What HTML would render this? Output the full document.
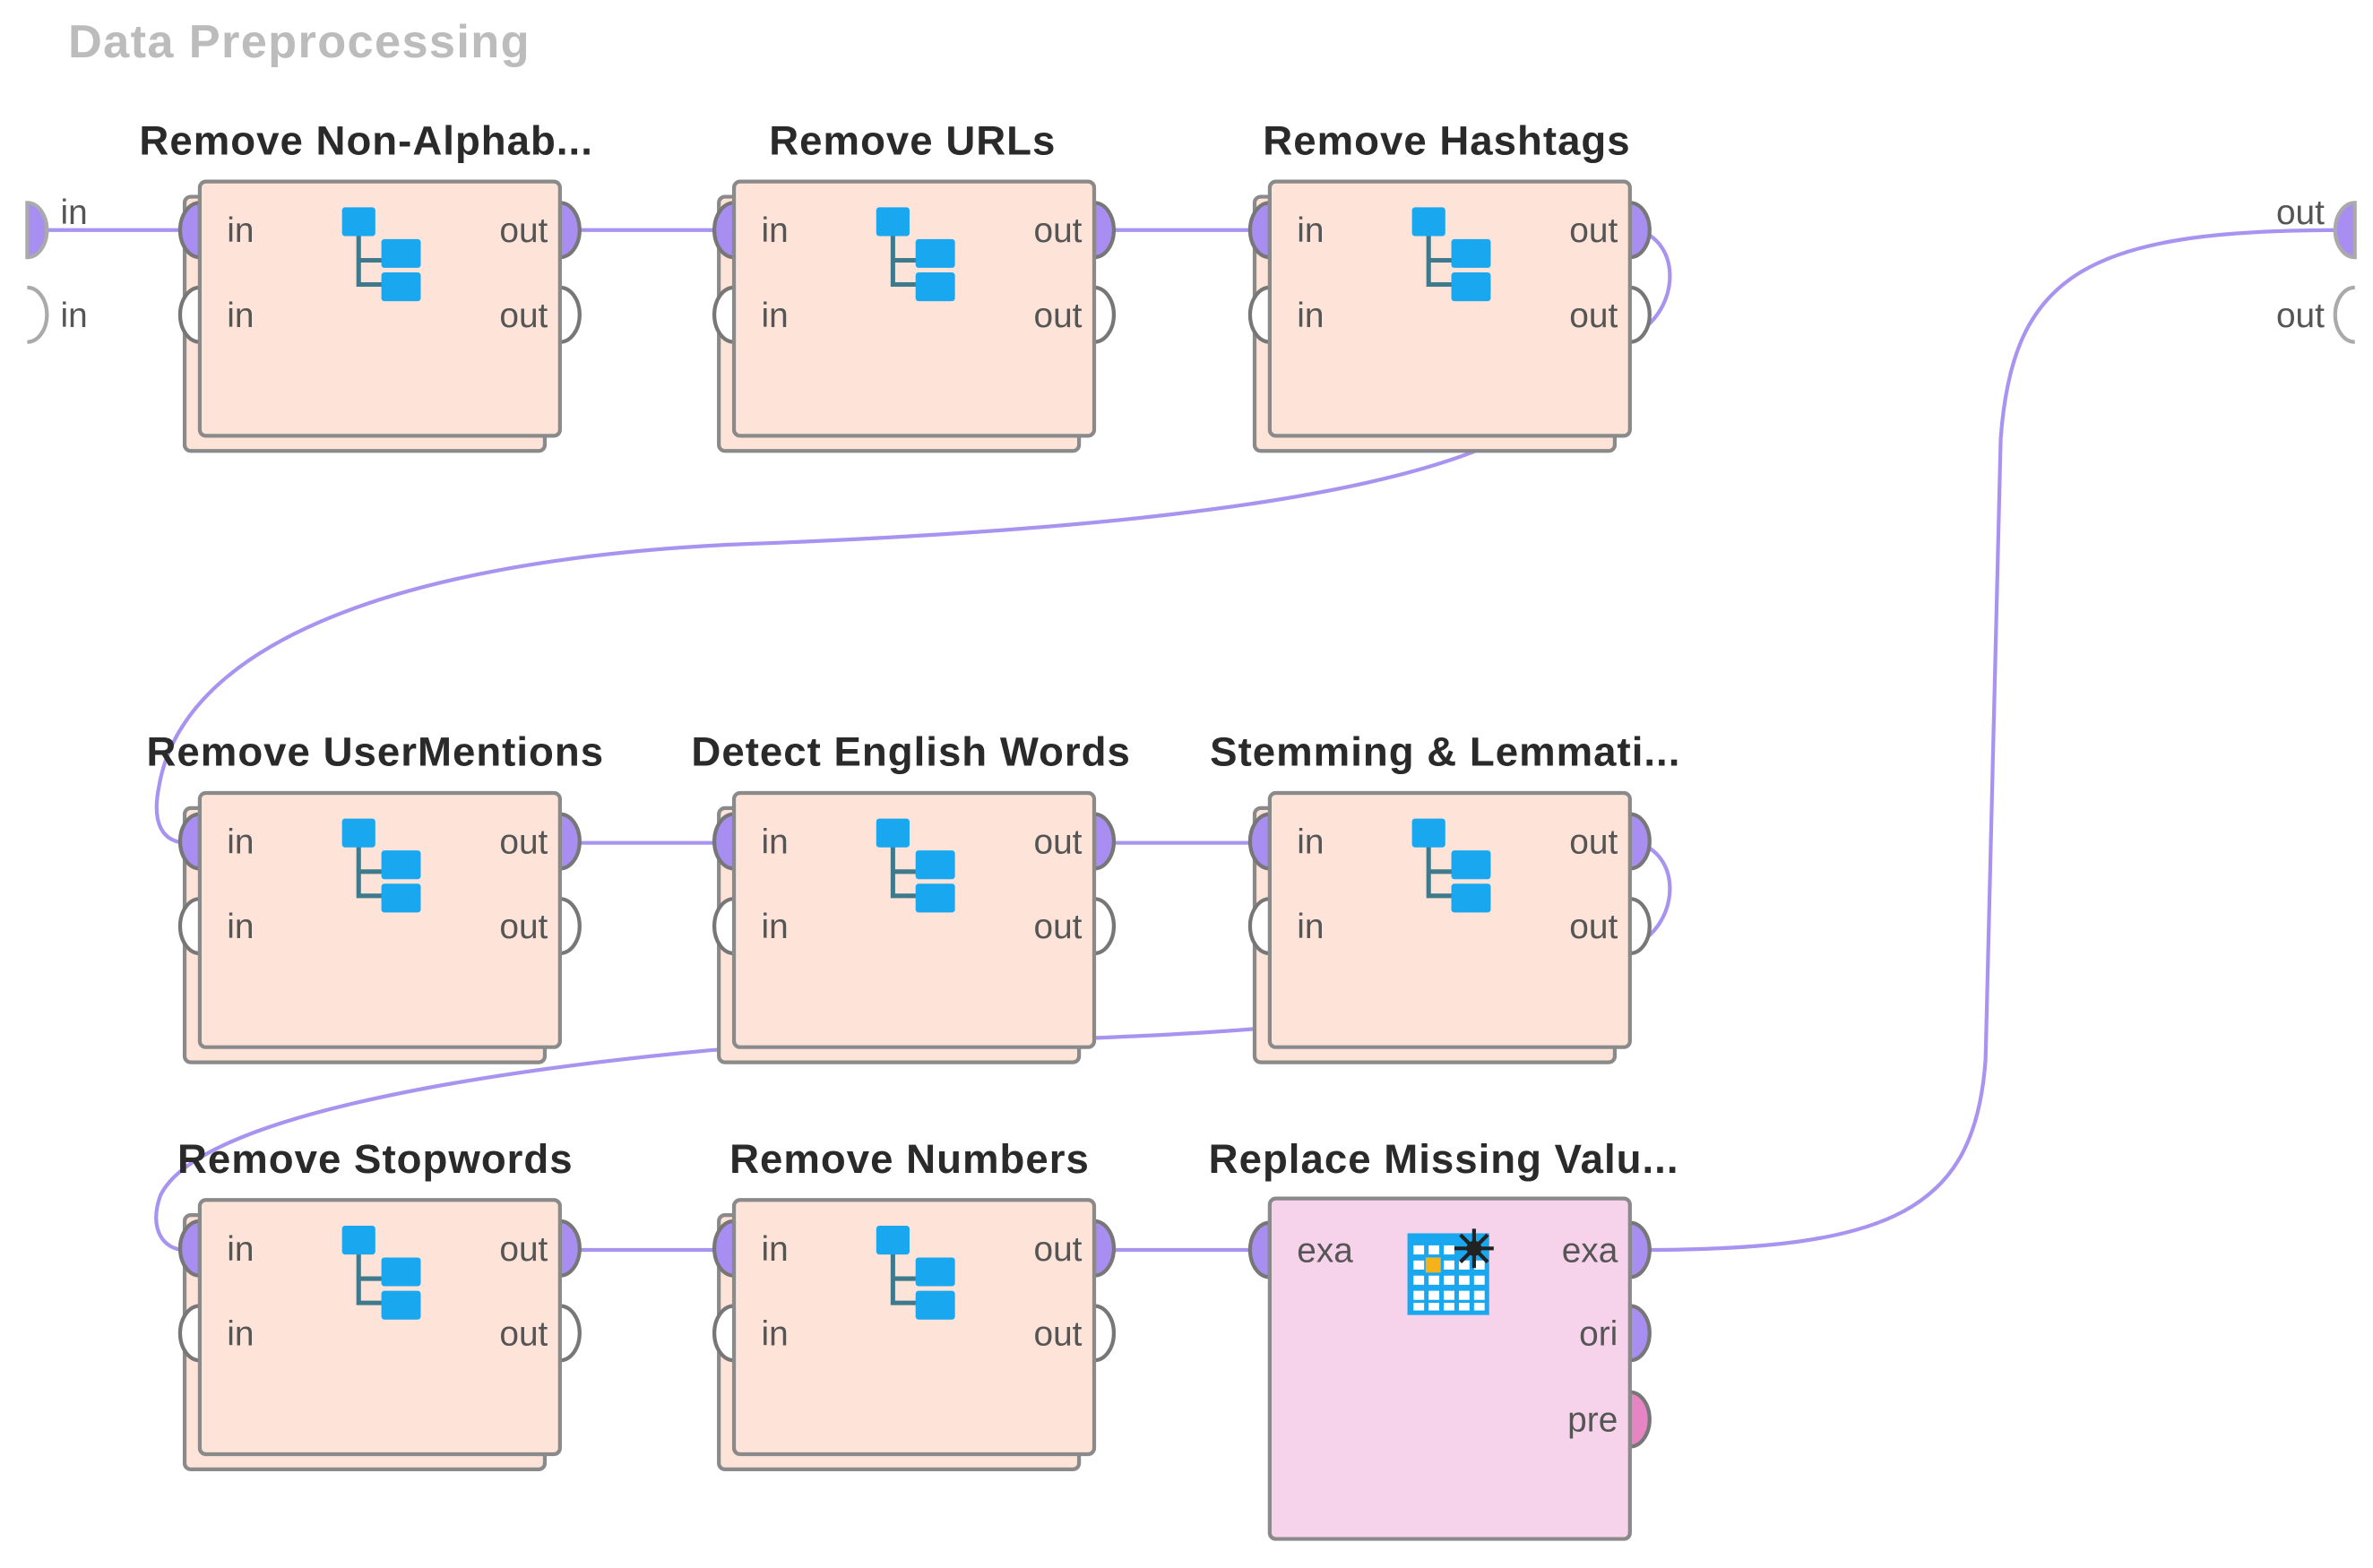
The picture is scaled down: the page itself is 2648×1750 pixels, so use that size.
<!DOCTYPE html>
<html><head><meta charset="utf-8"><style>
html,body{margin:0;padding:0;background:#fff;}
svg{display:block;}
text{font-family:"Liberation Sans",Arial,sans-serif;}
.lbl{font-size:27px;fill:#2a2a2a;font-weight:bold;text-anchor:middle;letter-spacing:0.6px;}
.pt{font-size:23px;fill:#555;}
</style></head><body>
<svg width="2648" height="1750" viewBox="0 0 1568 1036.2" preserveAspectRatio="none" xmlns="http://www.w3.org/2000/svg">
<defs>
<g id="tree">
 <path d="M237,148 V188 H254 M237,172 H254" stroke="#3f7a8c" stroke-width="3" fill="none"/>
 <rect x="226" y="137" width="22" height="19" rx="2" fill="#19a8f0"/>
 <rect x="252" y="158" width="26" height="19" rx="2" fill="#19a8f0"/>
 <rect x="252" y="180" width="26" height="19" rx="2" fill="#19a8f0"/>
</g>
<g id="node">
 <rect x="122" y="130" width="238" height="168" rx="4" fill="#fde3d8" stroke="#8a8a8a" stroke-width="2.5"/>
 <path d="M132,134 a13,18 0 0 0 0,36 Z" fill="#a88ef0" stroke="#777" stroke-width="2.5"/>
 <path d="M132,190 a13,18 0 0 0 0,36" fill="#fff" stroke="#777" stroke-width="2.5"/>
 <path d="M370,134 a13,18 0 0 1 0,36 Z" fill="#a88ef0" stroke="#777" stroke-width="2.5"/>
 <path d="M370,190 a13,18 0 0 1 0,36" fill="#fff" stroke="#777" stroke-width="2.5"/>
 <rect x="132" y="120" width="238" height="168" rx="4" fill="#fde3d8" stroke="#8a8a8a" stroke-width="2.5"/>
 <text class="pt" x="150" y="160">in</text>
 <text class="pt" x="150" y="216">in</text>
 <text class="pt" x="362" y="160" text-anchor="end">out</text>
 <text class="pt" x="362" y="216" text-anchor="end">out</text>
 <use href="#tree"/>
</g>
</defs>

<text x="45" y="38" font-size="31" font-weight="bold" fill="#bcbcbc" letter-spacing="0.8">Data Preprocessing</text>

<g stroke="#a894f0" stroke-width="2.5" fill="none">
 <path d="M20,152 H125"/>
 <path d="M375,152 H478"/>
 <path d="M728,152 H832"/>
 <path d="M1082,152 C1110,160 1110,200 1085,218"/>
 <path d="M975,298 C880,335 700,352 480,360 C250,372 120,430 105,520 C100,545 108,556 122,557"/>
 <path d="M375,557 H478"/>
 <path d="M728,557 H832"/>
 <path d="M1082,557 C1110,565 1110,605 1085,622"/>
 <path d="M828,680 C700,690 560,688 470,694 C300,710 130,740 106,790 C98,812 108,826 122,826"/>
 <path d="M375,826 H478"/>
 <path d="M728,826 H832"/>
 <path d="M1085,826 C1250,826 1305,800 1312,700 L1322,290 C1330,180 1380,152 1548,152"/>
</g>

<path d="M18,134 a13,18 0 0 1 0,36 Z" fill="#a88ef0" stroke="#aaa" stroke-width="2.5"/>
<path d="M18,190 a13,18 0 0 1 0,36" fill="#fff" stroke="#aaa" stroke-width="2.5"/>
<text class="pt" x="40" y="148">in</text>
<text class="pt" x="40" y="216">in</text>
<path d="M1556,134 a13,18 0 0 0 0,36 Z" fill="#a88ef0" stroke="#aaa" stroke-width="2.5"/>
<path d="M1556,190 a13,18 0 0 0 0,36" fill="#fff" stroke="#aaa" stroke-width="2.5"/>
<text class="pt" x="1536" y="148" text-anchor="end">out</text>
<text class="pt" x="1536" y="216" text-anchor="end">out</text>

<use href="#node"/>
<use href="#node" transform="translate(353,0)"/>
<use href="#node" transform="translate(707,0)"/>
<text class="lbl" x="242" y="102">Remove Non-Alphab...</text>
<text class="lbl" x="603" y="102">Remove URLs</text>
<text class="lbl" x="956" y="102">Remove Hashtags</text>
<use href="#node" transform="translate(0,404)"/>
<use href="#node" transform="translate(353,404)"/>
<use href="#node" transform="translate(707,404)"/>
<text class="lbl" x="248" y="506">Remove UserMentions</text>
<text class="lbl" x="602" y="506">Detect English Words</text>
<text class="lbl" x="955" y="506">Stemming &amp; Lemmati...</text>
<use href="#node" transform="translate(0,673)"/>
<use href="#node" transform="translate(353,673)"/>
<text class="lbl" x="248" y="775">Remove Stopwords</text>
<text class="lbl" x="601" y="775">Remove Numbers</text>
<text class="lbl" x="954" y="775">Replace Missing Valu...</text>

<path d="M839,808 a13,18 0 0 0 0,36 Z" fill="#a88ef0" stroke="#777" stroke-width="2.5"/>
<path d="M1077,808 a13,18 0 0 1 0,36 Z" fill="#a88ef0" stroke="#777" stroke-width="2.5"/>
<path d="M1077,863 a13,18 0 0 1 0,36 Z" fill="#a88ef0" stroke="#777" stroke-width="2.5"/>
<path d="M1077,920 a13,18 0 0 1 0,36 Z" fill="#e785c4" stroke="#777" stroke-width="2.5"/>
<rect x="839" y="792" width="238" height="225" rx="4" fill="#f6d3ea" stroke="#8a8a8a" stroke-width="2.5"/>
<text class="pt" x="857" y="834">exa</text>
<text class="pt" x="1069" y="834" text-anchor="end">exa</text>
<text class="pt" x="1069" y="889" text-anchor="end">ori</text>
<text class="pt" x="1069" y="946" text-anchor="end">pre</text>
<g>
 <rect x="930" y="815" width="54" height="54" fill="#19a8f0"/>
 <g fill="#fff">
  <rect x="934" y="823" width="7" height="6"/><rect x="944" y="823" width="7" height="6"/><rect x="954" y="823" width="7" height="6"/>
  <rect x="934" y="833" width="7" height="6"/><rect x="954" y="833" width="7" height="6"/><rect x="964" y="833" width="7" height="6"/><rect x="974" y="833" width="7" height="6"/>
  <rect x="934" y="843" width="7" height="6"/><rect x="944" y="843" width="7" height="6"/><rect x="954" y="843" width="7" height="6"/><rect x="964" y="843" width="7" height="6"/><rect x="974" y="843" width="7" height="6"/>
  <rect x="934" y="853" width="7" height="6"/><rect x="944" y="853" width="7" height="6"/><rect x="954" y="853" width="7" height="6"/><rect x="964" y="853" width="7" height="6"/><rect x="974" y="853" width="7" height="6"/>
  <rect x="934" y="861" width="7" height="5"/><rect x="944" y="861" width="7" height="5"/><rect x="954" y="861" width="7" height="5"/><rect x="964" y="861" width="7" height="5"/><rect x="974" y="861" width="7" height="5"/>
 </g>
 <rect x="942" y="831" width="10" height="10" fill="#f5b21a"/>
 <g stroke="#222" stroke-width="2.5">
  <path d="M974,812 V838 M961,825 H987 M965,816 L983,834 M983,816 L965,834"/>
 </g>
 <circle cx="974" cy="825" r="5" fill="#222"/>
</g>
</svg>
</body></html>
